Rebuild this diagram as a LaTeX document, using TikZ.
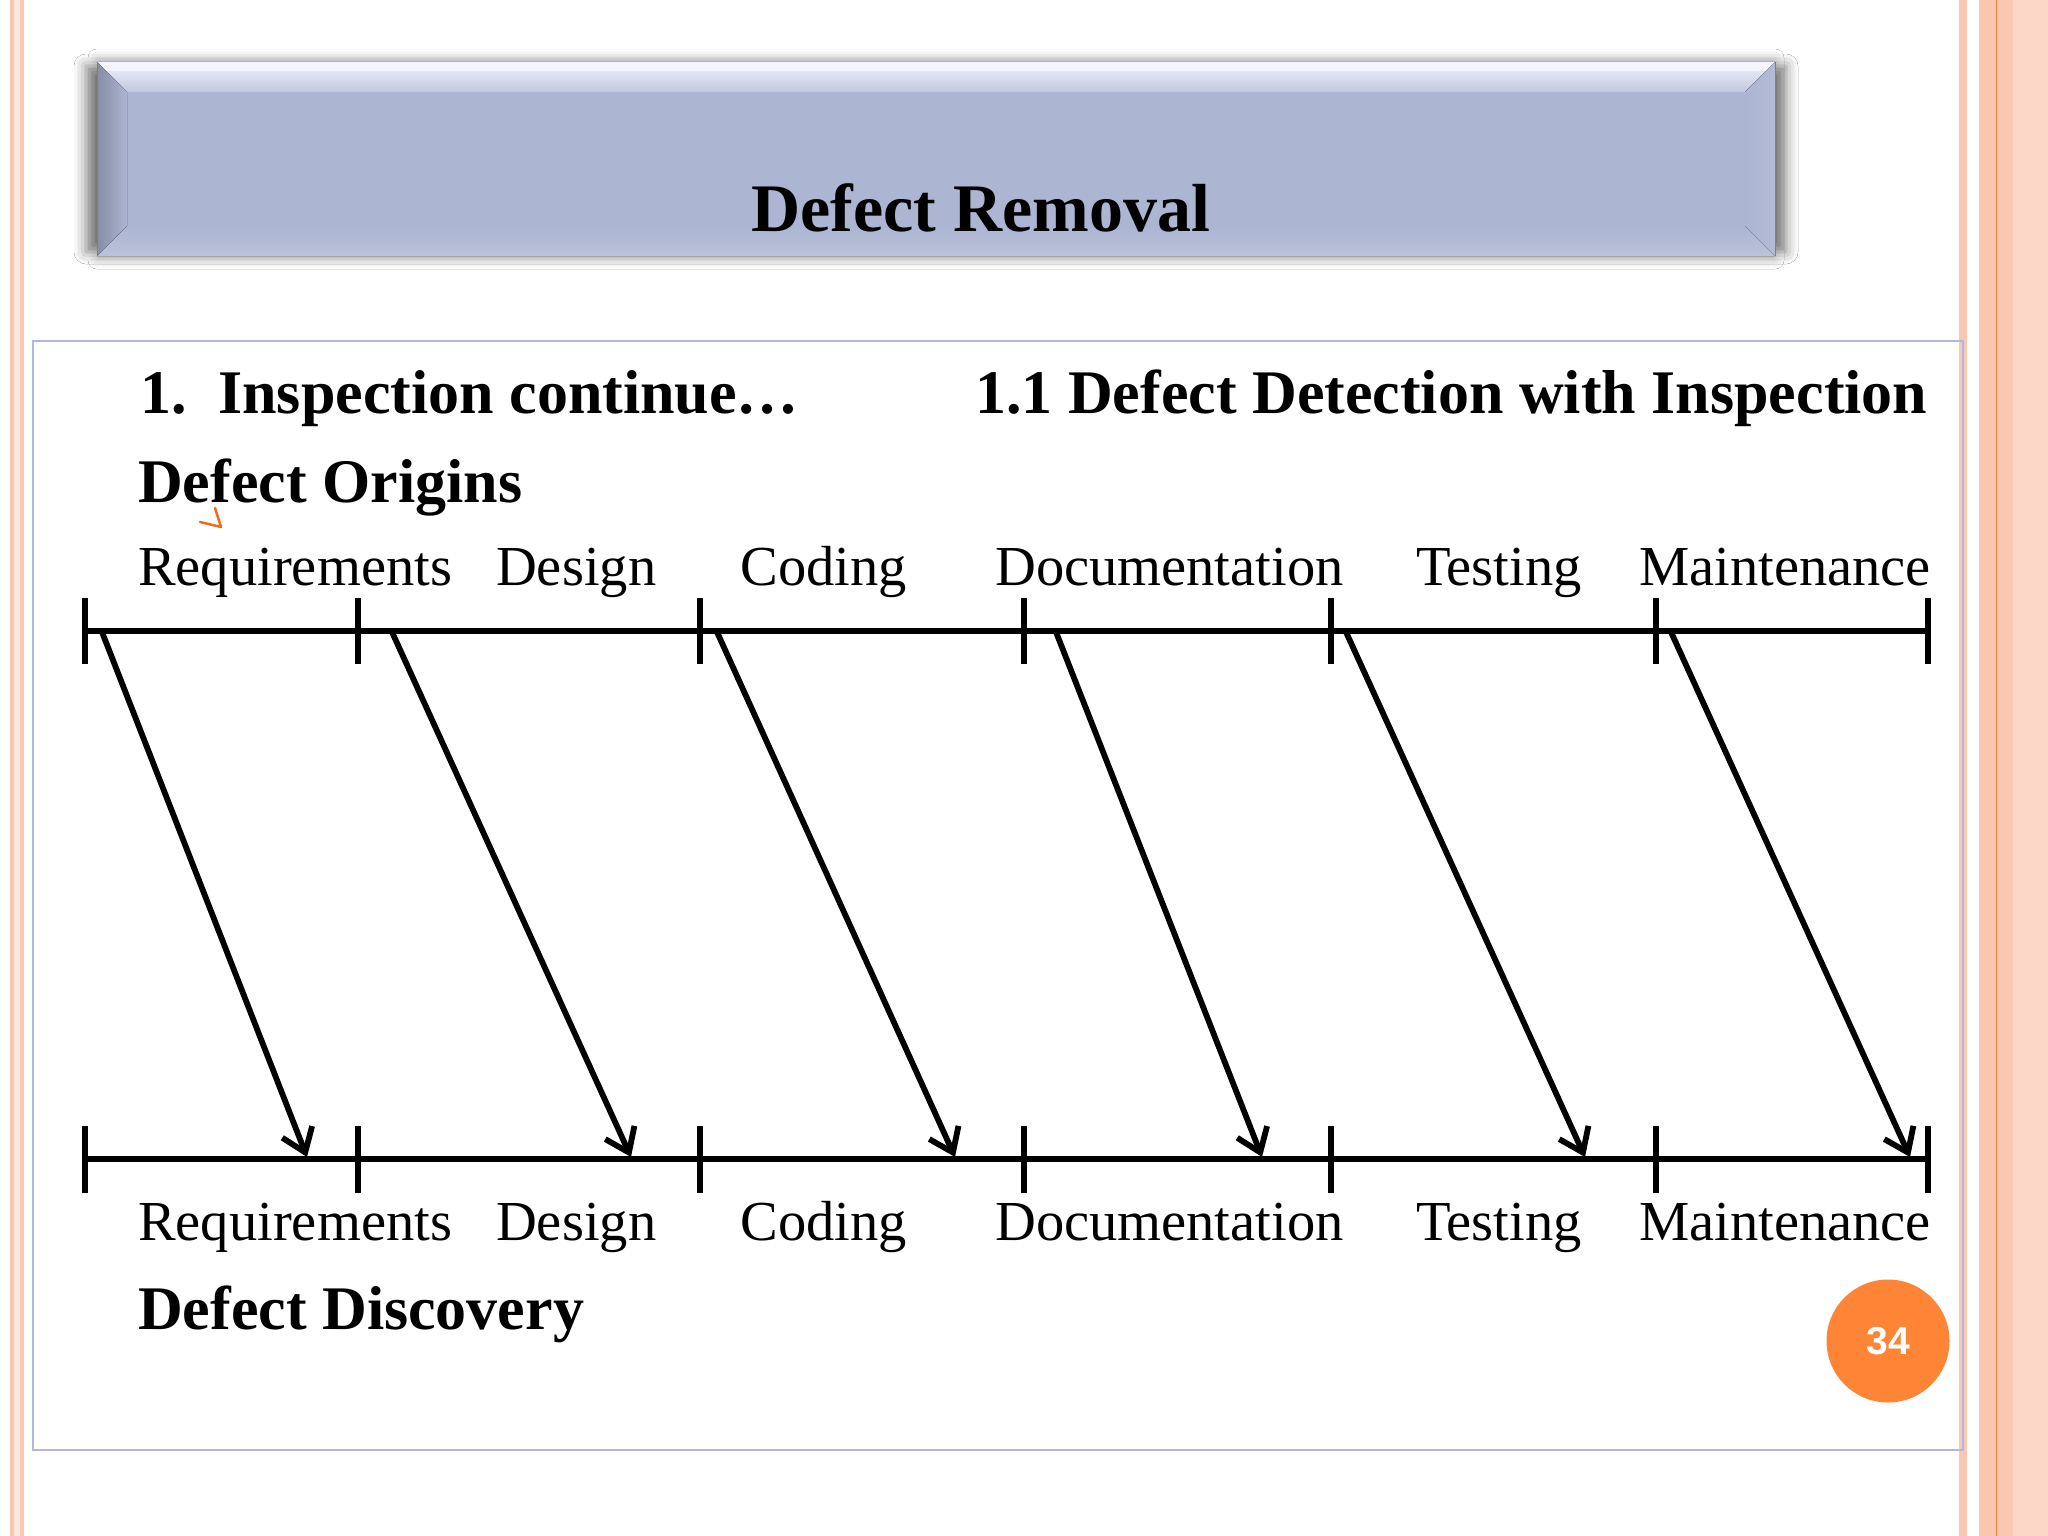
\documentclass[tikz,border=0pt]{standalone}
\usepackage{fontspec}
\setmainfont{Liberation Serif}
\newfontfamily\numfont{Liberation Sans}
\usetikzlibrary{arrows.meta,shadows.blur}
\definecolor{boxbase}{HTML}{ACB5D2}
\definecolor{salmon}{HTML}{FAC7B1}
\definecolor{salmonlight}{HTML}{FCD6C6}
\definecolor{salmondark}{HTML}{F3843C}
\definecolor{framecol}{HTML}{B3B6DE}
\definecolor{pgnum}{HTML}{FD8535}
\definecolor{markcol}{HTML}{F26B1D}
\begin{document}
\begin{tikzpicture}[x=1pt,y=-1pt,
  lbl/.style={anchor=base west,inner sep=0pt,font=\fontsize{56.5}{60}\selectfont},
  hdr/.style={anchor=base west,inner sep=0pt,font=\fontsize{62}{66}\selectfont\bfseries},
  axisline/.style={line width=6.5pt},
  tickline/.style={line width=6pt},
  flow/.style={line width=5.8pt,-{Straight Barb[length=22pt,width=32pt]}},
]
\useasboundingbox (0,0) rectangle (2048,1536);
\fill[white] (0,0) rectangle (2048,1536);
% side stripes
\fill[salmon] (10,0) rectangle (24,1536);
\fill[salmonlight!60!white] (13.5,0) rectangle (20,1536);
\fill[salmon] (1958.7,0) rectangle (1966.7,1536);
\fill[salmon] (1979.3,0) rectangle (2013,1536);
\fill[salmonlight] (2013,0) rectangle (2048,1536);
\fill[salmondark] (1995.5,0) rectangle (1997.2,1536);
% title box shadow
\path[blur shadow={shadow xshift=0pt,shadow yshift=0pt,shadow blur radius=12pt,shadow opacity=50}] (86,66) rectangle (1786,252);
\path[blur shadow={shadow xshift=0pt,shadow yshift=0pt,shadow blur radius=9pt,shadow opacity=20}] (97,58) rectangle (1775,260);
% title box
\fill[boxbase] (97,62) rectangle (1775,256);
\fill[top color=white!95!blue,bottom color=boxbase!75!white] (97,62) -- (1775,62) -- (1745,92) -- (127,92) -- cycle;
\fill[white!96!blue] (97,62) -- (1775,62) -- (1766,71) -- (106,71) -- cycle;
\fill[left color=boxbase!78!black,right color=boxbase] (97,62) -- (127,92) -- (127,226) -- (97,256) -- cycle;
\fill[left color=boxbase,right color=boxbase!92!white] (1775,62) -- (1745,92) -- (1745,226) -- (1775,256) -- cycle;
\fill[top color=boxbase,bottom color=boxbase!82!white] (97,256) -- (127,226) -- (1745,226) -- (1775,256) -- cycle;
\draw[boxbase!70!black,line width=1pt] (1775,62) -- (1775,256);
\draw[boxbase!70!black,line width=1pt] (97,62) -- (97,256);
\node[anchor=base west,inner sep=0pt,font=\fontsize{68}{70}\selectfont\bfseries] (title) at (751,231) {Defect Removal};
% content frame
\draw[framecol,line width=2pt] (33,341) rectangle (1963,1450);
% headings
\node[hdr] (h1) at (140.7,413) {1.\ \ Inspection continue…};
\node[hdr] (h2) at (975,413) {1.1 Defect Detection with Inspection};
\node[hdr] (orig) at (138,502) {Defect Origins};
\node[hdr] (disc) at (138,1329) {Defect Discovery};
\draw[markcol,line width=2.5pt,line cap=round,line join=round] (200,522) -- (221,527) -- (215,508);
% labels
\foreach \x/\t [count=\i] in {138/Requirements,496/Design,740.5/Coding,995/Documentation,1416/Testing,1639/Maintenance}{
  \node[lbl] (top\i) at (\x,585.5) {\t};
  \node[lbl] (bot\i) at (\x,1240) {\t};
}
% axes
\foreach \x in {85,358,700,1024,1331,1656,1928}{
  \draw[tickline] (\x,598) -- (\x,664);
  \draw[tickline] (\x,1126) -- (\x,1193);
}
\draw[axisline] (85,631) -- (1928,631);
\draw[axisline] (85,1159) -- (1928,1159);
% arrows
\foreach \s/\e [count=\i] in {102/307,392/631,717/955,1056/1262,1346/1585,1671/1910}{
  \coordinate (src\i) at (\s,632);
  \coordinate (dst\i) at (\e,1157);
  \draw[flow] (src\i) -- (dst\i);
}
% page number
\node[circle,fill=pgnum,minimum size=123pt,inner sep=0pt,text=white,font=\numfont\bfseries\fontsize{39}{40}\selectfont] (pg) at (1888,1341) {34};
\end{tikzpicture}
\end{document}
